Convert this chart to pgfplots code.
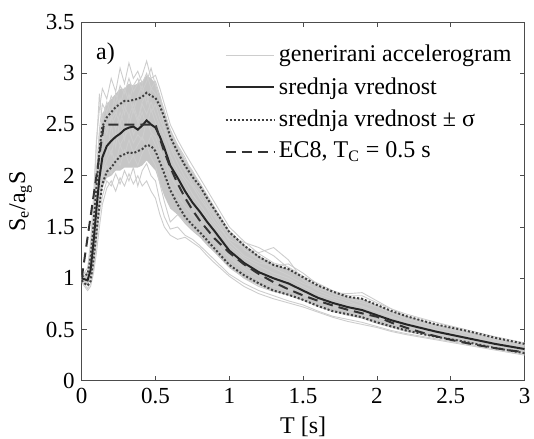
\documentclass[border=0pt]{standalone}
\usepackage{fontspec}
\setmainfont{Liberation Serif}
\usepackage{pgfplots}
\pgfplotsset{compat=1.18}
\usepackage{pgfplotstable}
\usepgfplotslibrary{fillbetween}
\definecolor{accgray}{RGB}{205,205,205}
\definecolor{bandgray}{RGB}{198,198,198}
\pgfplotstableread{
T m up lo eh el A B C D E F G H I J K L
0.00 1.00 1.02 0.98 1.01 0.99 1.02 0.97 1.01 0.99 1.00 0.98 1.00 1.00 0.99 1.02 0.96 1.01
0.02 0.99 1.03 0.95 1.02 0.97 1.05 0.94 1.00 0.97 1.02 0.96 0.99 1.01 0.98 1.06 0.92 1.03
0.04 0.98 1.04 0.93 1.03 0.95 1.06 0.90 1.02 0.95 1.05 0.93 0.98 1.00 0.96 1.10 0.88 1.02
0.06 1.08 1.20 0.97 1.18 1.00 1.25 0.95 1.15 1.02 1.22 1.00 1.10 1.20 1.05 1.35 0.92 1.18
0.08 1.35 1.52 1.18 1.55 1.15 1.62 1.10 1.48 1.25 1.55 1.18 1.40 1.70 1.30 1.80 1.05 1.52
0.10 1.68 1.90 1.45 1.95 1.40 2.05 1.35 1.85 1.55 1.98 1.42 1.72 2.30 1.62 2.35 1.25 1.92
0.12 1.98 2.25 1.72 2.35 1.68 2.45 1.62 2.30 1.85 2.40 1.75 2.10 2.80 1.95 2.65 1.50 2.20
0.14 2.18 2.48 1.92 2.60 1.88 2.70 1.80 2.60 2.05 2.55 2.00 2.45 2.50 2.15 2.85 1.72 2.38
0.17 2.29 2.57 2.04 2.70 1.98 2.62 1.95 2.45 2.15 2.72 2.10 2.20 2.40 2.32 2.75 1.88 2.62
0.20 2.34 2.62 2.08 2.75 2.00 2.78 1.90 2.55 2.25 2.60 2.02 2.50 2.58 2.20 2.95 1.95 2.48
0.23 2.38 2.67 2.14 2.80 2.05 2.70 2.02 2.62 2.12 2.80 2.18 2.28 2.45 2.42 2.82 1.85 2.58
0.26 2.41 2.70 2.19 2.85 2.05 2.88 1.92 2.50 2.30 2.68 2.10 2.55 2.62 2.30 3.05 1.98 2.75
0.29 2.45 2.73 2.21 2.85 2.08 2.80 2.05 2.68 2.20 2.85 2.25 2.35 2.50 2.38 2.90 1.90 2.60
0.32 2.47 2.73 2.23 2.90 2.08 2.95 1.95 2.58 2.35 2.72 2.12 2.60 2.48 2.45 3.10 2.02 2.80
0.35 2.48 2.74 2.22 2.88 2.08 2.82 2.08 2.70 2.22 2.88 2.20 2.40 2.65 2.32 2.95 1.92 2.62
0.38 2.45 2.75 2.24 2.90 2.08 2.90 1.90 2.55 2.30 2.95 2.10 2.50 2.52 2.40 3.02 2.00 2.78
0.41 2.49 2.77 2.26 2.92 2.10 2.98 2.05 2.72 2.38 2.82 2.22 2.62 2.70 2.35 2.90 1.90 2.88
0.44 2.54 2.81 2.30 2.98 2.15 3.12 2.12 2.80 2.28 2.92 2.30 2.48 2.60 2.55 3.00 1.95 2.70
0.47 2.50 2.78 2.29 2.95 2.10 2.95 2.00 2.62 2.40 3.05 2.18 2.65 2.72 2.42 2.85 1.85 2.85
0.50 2.47 2.76 2.24 2.90 2.05 2.98 1.95 2.70 2.30 2.88 2.10 2.52 2.60 2.38 2.92 1.78 2.80
0.53 2.38 2.68 2.13 2.78 1.92 2.85 1.75 2.55 2.15 2.72 1.92 2.40 2.48 2.25 2.78 1.62 2.65
0.56 2.27 2.57 2.02 2.65 1.80 2.70 1.60 2.45 2.05 2.55 1.75 2.25 2.38 2.15 2.62 1.50 2.48
0.60 2.10 2.38 1.86 2.45 1.68 2.50 1.48 2.28 1.90 2.42 1.55 2.12 2.20 2.00 2.45 1.42 2.30
0.65 1.98 2.23 1.72 2.30 1.62 2.35 1.50 2.12 1.80 2.28 1.62 2.00 2.05 1.88 2.30 1.38 2.18
0.70 1.85 2.10 1.60 2.16 1.53 2.22 1.42 1.98 1.70 2.15 1.55 1.88 1.95 1.78 2.18 1.40 2.05
0.75 1.74 1.99 1.52 2.04 1.46 2.10 1.38 1.90 1.62 2.05 1.48 1.75 1.82 1.68 2.02 1.35 1.92
0.80 1.65 1.90 1.45 1.94 1.40 1.98 1.32 1.78 1.55 1.92 1.42 1.68 1.72 1.58 1.88 1.30 1.82
0.85 1.55 1.78 1.37 1.82 1.32 1.86 1.25 1.68 1.45 1.80 1.38 1.58 1.62 1.50 1.74 1.22 1.70
0.90 1.46 1.67 1.29 1.70 1.25 1.74 1.18 1.55 1.35 1.68 1.30 1.48 1.52 1.40 1.62 1.15 1.60
1.00 1.27 1.45 1.13 1.47 1.10 1.50 1.04 1.38 1.20 1.45 1.12 1.28 1.32 1.22 1.42 1.02 1.36
1.10 1.15 1.32 1.03 1.33 1.00 1.36 0.95 1.30 1.08 1.28 1.00 1.16 1.20 1.10 1.35 0.92 1.22
1.20 1.06 1.21 0.95 1.22 0.93 1.24 0.88 1.25 0.98 1.18 0.92 1.07 1.12 1.02 1.30 0.85 1.15
1.30 1.00 1.13 0.88 1.14 0.87 1.15 0.83 1.30 0.92 1.10 0.87 1.02 1.05 0.96 1.22 0.80 1.12
1.40 0.95 1.09 0.84 1.09 0.83 1.11 0.78 1.18 0.88 1.03 0.85 0.96 1.00 0.90 1.10 0.76 1.14
1.50 0.88 1.01 0.79 1.01 0.78 1.02 0.74 0.98 0.84 0.95 0.80 0.88 0.92 0.85 1.00 0.72 1.05
1.60 0.81 0.93 0.73 0.93 0.72 0.95 0.68 0.88 0.78 0.90 0.73 0.82 0.85 0.79 0.92 0.67 0.94
1.70 0.76 0.87 0.68 0.87 0.67 0.88 0.63 0.82 0.72 0.86 0.68 0.77 0.80 0.74 0.85 0.62 0.85
1.80 0.72 0.82 0.65 0.82 0.64 0.83 0.60 0.78 0.68 0.85 0.64 0.73 0.75 0.70 0.80 0.58 0.80
1.90 0.69 0.80 0.62 0.80 0.61 0.83 0.57 0.72 0.64 0.86 0.61 0.70 0.73 0.66 0.76 0.55 0.78
2.00 0.64 0.74 0.57 0.74 0.56 0.76 0.53 0.68 0.60 0.78 0.56 0.65 0.67 0.62 0.72 0.52 0.73
2.10 0.59 0.68 0.53 0.68 0.52 0.70 0.49 0.63 0.56 0.70 0.52 0.60 0.62 0.57 0.66 0.48 0.66
2.20 0.55 0.63 0.49 0.63 0.48 0.65 0.46 0.58 0.52 0.63 0.48 0.56 0.57 0.53 0.61 0.45 0.60
2.40 0.48 0.55 0.43 0.55 0.42 0.57 0.41 0.50 0.45 0.55 0.43 0.48 0.50 0.46 0.53 0.40 0.52
2.60 0.42 0.49 0.38 0.49 0.37 0.50 0.36 0.44 0.40 0.48 0.38 0.42 0.44 0.41 0.47 0.35 0.46
2.80 0.36 0.42 0.32 0.42 0.32 0.43 0.31 0.38 0.34 0.41 0.33 0.36 0.38 0.35 0.40 0.30 0.39
3.00 0.31 0.36 0.27 0.36 0.27 0.37 0.26 0.33 0.29 0.35 0.28 0.31 0.32 0.30 0.35 0.25 0.34
}\data
\begin{document}
\begin{tikzpicture}
\begin{axis}[
  scale only axis, width=221.4pt, height=179.4pt,
  xmin=0, xmax=3, ymin=0, ymax=3.5,
  xtick={0,0.5,1,1.5,2,2.5,3}, ytick={0,0.5,1,1.5,2,2.5,3,3.5},
  xticklabels={0,0.5,1,1.5,2,2.5,3},
  yticklabels={0,0.5,1,1.5,2,2.5,3,3.5},
  tick align=inside, major tick length=2.5pt,
  axis line style={black!70}, every tick/.style={black!70},
  tick label style={font=\fontsize{11.5}{13}\selectfont},
  xlabel={T [s]}, ylabel={S\textsubscript{e}/a\textsubscript{g}S},
  label style={font=\fontsize{12}{14}\selectfont},
  legend style={draw=none, fill=none, at={(0.985,0.953)}, anchor=north east,
    font=\fontsize{12}{14}\selectfont, row sep=2.3pt, inner sep=1pt},
  legend cell align=left,
  legend image code/.code={\draw[#1] (0cm,0cm) -- (0.85cm,0cm);},
]
\addplot[draw=none, name path=eh, forget plot] table[x=T,y=eh]{\data};
\addplot[draw=none, name path=el, forget plot] table[x=T,y=el]{\data};
\addplot[bandgray, forget plot] fill between[of=eh and el];
\addplot[accgray, line width=0.45pt] table[x=T,y=A]{\data};
\addlegendentry{generirani accelerogram}
\addplot[accgray, line width=0.45pt, forget plot] table[x=T,y=B]{\data};
\addplot[accgray, line width=0.45pt, forget plot] table[x=T,y=C]{\data};
\addplot[accgray, line width=0.45pt, forget plot] table[x=T,y=D]{\data};
\addplot[accgray, line width=0.45pt, forget plot] table[x=T,y=E]{\data};
\addplot[accgray, line width=0.45pt, forget plot] table[x=T,y=F]{\data};
\addplot[accgray, line width=0.45pt, forget plot] table[x=T,y=G]{\data};
\addplot[accgray, line width=0.45pt, forget plot] table[x=T,y=H]{\data};
\addplot[accgray, line width=0.45pt, forget plot] table[x=T,y=I]{\data};
\addplot[accgray, line width=0.45pt, forget plot] table[x=T,y=J]{\data};
\addplot[accgray, line width=0.45pt, forget plot] table[x=T,y=K]{\data};
\addplot[accgray, line width=0.45pt, forget plot] table[x=T,y=L]{\data};
\addplot[black!85, line width=1pt] table[x=T,y=m]{\data};
\addlegendentry{srednja vrednost}
\addplot[black!75, line width=1pt, densely dotted] table[x=T,y=up]{\data};
\addlegendentry{srednja vrednost ± σ}
\addplot[black!75, line width=1pt, densely dotted, forget plot] table[x=T,y=lo]{\data};
\addplot[black!80, line width=1pt, dash pattern=on 5pt off 3pt] coordinates {
(0,1.0) (0.15,2.5) (0.5,2.5) (0.55,2.273) (0.6,2.083) (0.65,1.923) (0.7,1.786)
(0.75,1.667) (0.8,1.563) (0.9,1.389) (1.0,1.25) (1.1,1.136) (1.2,1.042) (1.3,0.962)
(1.4,0.893) (1.5,0.833) (1.6,0.781) (1.7,0.735) (1.8,0.694) (1.9,0.658) (2.0,0.625)
(2.1,0.567) (2.2,0.517) (2.3,0.473) (2.4,0.434) (2.5,0.4) (2.6,0.370) (2.7,0.343)
(2.8,0.319) (2.9,0.297) (3.0,0.278)};
\addlegendentry{EC8, T\textsubscript{C} = 0.5 s}
\node[anchor=west, font=\fontsize{12}{14}\selectfont] at (axis cs:0.05,3.19) {a)};
\coordinate (ll) at (rel axis cs:0,0);
\coordinate (ur) at (rel axis cs:1,1);
\end{axis}
\pgfresetboundingbox
\path[use as bounding box] ([xshift=-40.85pt,yshift=-28.6pt]ll) rectangle ([xshift=4.75pt,yshift=11pt]ur);
\end{tikzpicture}
\end{document}
